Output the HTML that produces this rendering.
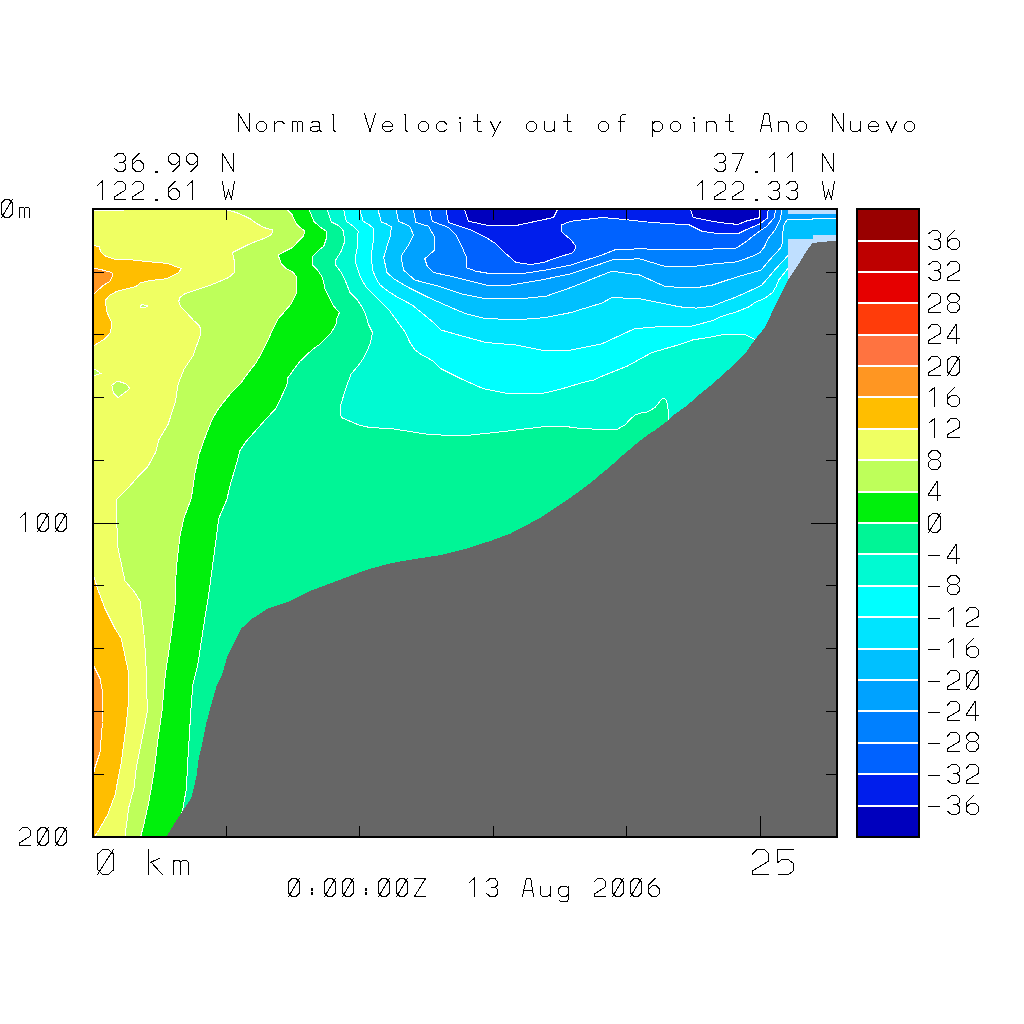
<!DOCTYPE html>
<html><head><meta charset="utf-8"><title>Normal Velocity out of point Ano Nuevo</title>
<style>html,body{margin:0;padding:0;background:#fff;width:1024px;height:1024px;overflow:hidden;font-family:"Liberation Sans",sans-serif}svg{display:block}</style>
</head><body>
<svg width="1024" height="1024" viewBox="0 0 1024 1024">
<defs><clipPath id="pc"><rect x="94" y="210" width="742" height="626"/></clipPath></defs>
<rect width="1024" height="1024" fill="#fff"/>
<g clip-path="url(#pc)" shape-rendering="crispEdges">
<rect x="94" y="210" width="742" height="626" fill="#00f596"/>
<polygon points="309.40,195.00 309.40,210.00 313.75,221.25 320.00,226.90 326.25,231.25 326.25,238.75 323.75,246.25 318.75,250.00 312.50,256.25 312.50,265.00 317.50,270.00 322.50,277.50 325.00,288.75 328.75,296.25 333.75,306.25 339.40,312.50 336.25,320.00 336.25,323.75 331.25,332.50 318.75,345.00 312.50,349.40 300.00,361.25 287.50,378.10 286.90,385.00 280.00,400.00 275.60,408.75 266.25,418.75 256.25,430.00 246.25,441.25 240.00,450.60 236.10,465.00 230.60,483.75 226.70,500.00 218.75,518.50 216.00,540.00 214.00,555.00 211.50,573.75 209.00,592.50 204.60,620.00 201.50,640.00 197.75,665.00 192.75,685.00 190.90,710.00 189.00,741.25 187.50,765.00 186.50,788.00 182.50,811.00 170.00,850.00 60.00,850.00 60.00,195.00" fill="#00f00c" stroke="#fff" stroke-width="1"/>
<polygon points="287.50,195.00 287.50,210.00 291.90,214.40 296.25,223.75 300.00,227.50 304.40,230.60 303.75,235.60 300.00,239.40 292.50,247.50 285.00,251.25 278.10,255.00 281.25,263.75 286.25,268.75 291.90,271.25 296.90,276.90 296.25,293.75 291.25,303.75 283.75,312.50 278.10,318.75 272.50,330.00 267.50,341.25 262.50,351.25 256.25,362.50 247.50,373.75 241.25,382.50 228.75,395.60 217.50,410.00 211.90,420.00 205.00,437.50 198.75,455.00 195.00,473.50 191.25,498.50 183.75,518.50 180.00,536.00 176.25,568.50 175.00,606.00 170.00,643.50 165.25,675.00 162.10,710.00 157.75,741.25 154.00,772.50 149.00,801.25 144.00,823.75 140.90,836.00 140.00,850.00 60.00,850.00 60.00,195.00" fill="#beff5a" stroke="#fff" stroke-width="1"/>
<polygon points="227.50,195.00 227.50,210.00 236.25,212.50 245.00,216.25 251.25,219.40 255.00,222.50 263.75,227.50 272.50,230.00 273.10,231.90 270.00,235.60 265.00,238.10 256.25,241.25 247.50,245.00 232.50,252.50 234.40,261.25 234.40,272.50 228.75,277.50 220.00,281.25 207.50,286.25 196.25,290.00 185.00,293.75 180.00,297.50 178.75,301.25 180.60,306.25 187.50,313.75 193.75,320.60 198.75,325.00 200.60,328.75 200.00,336.25 198.60,340.00 193.10,355.60 183.75,369.70 178.30,383.75 175.20,402.50 168.10,424.40 158.75,440.00 155.60,452.50 147.80,466.60 140.00,474.40 129.00,486.90 116.25,499.75 117.50,546.00 125.00,581.00 133.75,591.00 140.00,601.00 143.75,631.00 145.90,660.00 146.50,692.50 147.75,708.75 145.25,722.50 141.50,741.25 136.50,766.25 134.00,788.00 128.75,807.50 125.00,836.00 124.00,850.00 60.00,850.00 60.00,195.00" fill="#efff62" stroke="#fff" stroke-width="1"/>
<polygon points="111.90,385.30 117.30,381.00 125.90,383.75 129.80,388.40 125.20,392.30 118.10,397.50 113.40,393.10" fill="#beff5a" stroke="#fff" stroke-width="1"/>
<polygon points="94.00,368.90 97.00,370.50 101.00,373.60 96.25,374.70 94.00,376.00 80.00,376.00 80.00,368.90" fill="#beff5a" stroke="#fff" stroke-width="1"/>
<polygon points="140.00,306.00 142.50,304.40 147.50,306.00 145.00,307.50 141.00,307.50" fill="#beff5a" stroke="#fff" stroke-width="1"/>
<polygon points="94.00,245.60 99.40,246.90 100.60,251.90 105.60,256.25 115.00,259.40 132.50,260.00 143.75,261.25 155.00,262.25 167.50,263.50 181.25,268.50 178.75,272.50 166.25,278.75 150.00,280.60 140.00,283.10 136.25,286.25 127.50,288.75 116.90,291.25 110.00,295.00 105.60,300.00 106.25,310.00 108.75,316.25 111.90,322.50 110.60,332.50 105.00,338.75 94.00,345.60 70.00,345.60 70.00,245.60" fill="#ffbe00" stroke="#fff" stroke-width="1"/>
<polygon points="93.75,576.00 97.50,588.50 105.00,608.50 115.00,628.50 121.25,638.50 125.00,656.00 128.75,673.50 128.75,700.00 126.25,725.00 121.25,762.50 115.00,795.00 107.50,815.00 97.50,832.50 95.00,836.00 90.00,850.00 70.00,850.00 70.00,576.00" fill="#ffbe00" stroke="#fff" stroke-width="1"/>
<polygon points="94.00,268.10 102.50,270.00 111.90,272.50 112.50,276.25 110.00,281.25 103.75,285.00 94.00,293.75 70.00,293.75 70.00,268.10" fill="#ff9622" stroke="#fff" stroke-width="1"/>
<polygon points="93.75,666.00 100.00,678.50 102.50,691.00 103.00,705.00 102.50,722.50 100.00,752.50 95.00,767.50 94.00,772.50 70.00,772.50 70.00,666.00" fill="#ff9622" stroke="#fff" stroke-width="1"/>
<polygon points="327.50,195.00 327.50,210.00 331.25,221.90 338.75,225.60 343.75,231.25 344.40,242.50 341.25,251.25 335.60,260.00 335.60,265.00 341.25,272.50 345.00,280.00 350.00,292.50 357.50,300.00 363.75,310.00 367.50,320.00 368.10,323.75 372.50,332.50 370.60,342.50 367.50,350.00 363.10,358.75 358.75,365.00 351.25,373.75 347.50,383.75 343.75,395.00 340.00,407.50 340.00,415.00 342.50,418.10 350.00,421.25 358.75,425.00 366.25,426.90 380.00,428.10 392.50,428.75 400.00,430.00 412.50,431.90 428.00,434.40 441.00,435.00 471.00,435.00 506.00,431.25 541.00,427.00 563.50,426.25 578.10,428.10 593.75,429.10 617.50,429.10 625.00,425.00 629.40,420.00 635.00,415.00 640.00,413.10 647.50,411.90 655.00,407.50 660.00,401.25 663.10,398.10 665.60,399.40 667.50,403.75 668.10,410.00 668.10,420.00 690.00,440.00 900.00,440.00 900.00,195.00" fill="#00fad2" stroke="#fff" stroke-width="1"/>
<polygon points="343.75,195.00 343.75,210.00 346.25,221.25 352.50,225.60 358.10,231.25 357.50,246.25 355.00,260.00 357.50,268.75 360.00,276.25 366.25,287.50 373.75,295.00 382.50,303.75 390.00,311.25 396.25,320.00 405.00,331.90 410.00,342.50 415.00,350.00 420.00,353.75 428.00,358.10 433.50,361.25 441.00,368.75 461.00,378.75 483.50,388.75 508.50,393.75 541.00,393.75 560.00,389.40 572.50,385.60 585.00,381.90 593.75,380.00 602.00,376.25 627.00,366.25 652.00,352.50 680.00,344.40 692.50,340.00 711.25,336.90 721.25,335.00 737.50,334.75 746.25,335.00 755.00,339.40 770.00,350.00 900.00,350.00 900.00,195.00" fill="#00ffff" stroke="#fff" stroke-width="1"/>
<polygon points="360.00,195.00 360.00,210.00 363.10,221.25 368.75,224.40 373.10,228.10 373.10,242.50 371.25,255.00 372.50,270.00 376.25,278.75 380.00,285.00 390.00,292.50 398.00,297.50 412.25,305.00 433.50,322.50 441.00,330.00 458.50,335.00 486.00,342.50 516.00,345.00 541.00,350.00 571.00,350.00 602.00,343.75 634.50,328.75 664.50,326.25 680.00,326.25 691.25,326.25 712.50,320.60 720.00,316.90 736.25,311.90 748.75,306.90 755.00,302.50 765.00,298.10 772.50,292.50 776.25,286.25 778.75,280.00 788.00,268.40 800.00,268.00 900.00,268.00 900.00,195.00" fill="#00e4ff" stroke="#fff" stroke-width="1"/>
<polygon points="378.10,195.00 378.10,210.00 381.25,221.90 386.25,223.75 391.25,226.90 390.60,235.00 386.25,248.75 383.75,257.50 386.90,272.50 393.75,278.75 398.00,281.25 408.50,287.50 428.50,297.50 451.00,307.50 466.00,313.75 486.00,318.75 521.00,319.50 546.00,317.50 571.00,312.50 602.00,303.00 612.00,297.50 639.50,298.75 680.00,306.90 696.25,308.10 712.50,306.25 721.25,302.50 735.00,297.50 747.50,291.90 761.25,285.60 766.25,280.00 775.10,269.50 788.00,255.50 800.00,255.00 900.00,255.00 900.00,195.00" fill="#00c0ff" stroke="#fff" stroke-width="1"/>
<polygon points="396.25,195.00 396.25,210.00 398.50,221.25 409.75,226.25 413.50,235.00 408.50,245.00 401.00,256.25 403.50,270.00 414.75,280.00 438.50,286.25 461.00,293.75 486.00,298.75 521.00,298.75 546.00,296.25 571.00,287.50 602.00,275.00 612.00,271.25 639.50,275.00 664.50,286.25 680.00,287.50 697.50,287.50 712.50,285.00 727.50,280.00 740.70,275.90 761.20,270.00 768.70,260.90 780.50,248.00 782.60,242.60 783.20,226.50 786.90,220.00 788.00,219.50 812.00,219.50 812.00,218.50 850.00,218.50 850.00,195.00" fill="#00a2ff" stroke="#fff" stroke-width="1"/>
<polygon points="413.50,195.00 413.50,210.00 416.00,222.50 428.50,226.25 434.75,237.50 434.75,250.00 424.75,258.75 427.25,266.25 433.50,272.50 451.00,276.25 466.00,280.00 486.00,285.00 511.00,285.00 541.00,280.00 571.00,273.75 602.00,263.50 612.00,260.00 639.50,258.75 664.50,266.25 689.50,267.00 714.50,263.75 730.00,262.50 736.40,261.90 751.50,256.60 760.10,252.30 764.40,246.90 767.60,239.40 775.10,229.70 780.50,219.00 781.60,210.00 781.60,195.00" fill="#0080ff" stroke="#fff" stroke-width="1"/>
<polygon points="429.75,195.00 429.75,210.00 432.25,221.25 448.50,227.50 456.00,235.00 462.25,247.50 466.00,256.25 466.00,267.50 476.00,271.25 491.00,273.75 521.00,273.75 546.00,270.00 571.00,265.00 602.00,255.00 614.50,250.00 639.50,248.75 677.00,250.00 722.00,248.75 730.00,248.50 736.40,248.00 746.10,241.50 760.10,230.80 766.50,226.50 774.00,217.90 775.70,210.00 775.70,195.00" fill="#0062ff" stroke="#fff" stroke-width="1"/>
<polygon points="446.00,195.00 446.00,210.00 448.50,222.50 471.00,230.00 486.00,237.50 496.00,243.75 506.00,253.75 516.00,262.50 531.00,264.50 543.50,262.50 553.50,258.75 573.50,252.50 576.00,246.25 571.00,240.00 561.00,231.25 561.00,225.00 571.00,221.25 602.00,217.50 624.50,219.50 652.00,222.50 689.50,225.00 702.00,231.25 719.50,233.75 730.00,234.00 738.60,233.50 746.10,229.70 760.10,223.80 767.60,217.90 768.10,210.00 768.10,195.00" fill="#001eec" stroke="#fff" stroke-width="1"/>
<polygon points="464.75,195.00 464.75,210.00 468.50,221.25 486.00,225.00 518.50,225.00 553.50,217.50 557.25,210.00 557.25,195.00" fill="#0000be" stroke="#fff" stroke-width="1"/>
<polygon points="690.75,195.00 690.75,210.00 693.25,217.50 712.00,221.25 730.00,223.80 738.60,224.30 746.10,221.10 759.00,217.90 759.50,214.70 759.50,210.00 759.50,195.00" fill="#0000be" stroke="#fff" stroke-width="1"/>
<polygon points="788.00,210.00 836.00,210.00 836.00,213.60 788.00,213.60" fill="#bfdfff"/>
<polygon points="788.00,239.40 813.30,239.40 813.30,235.10 840.00,235.10 840.00,241.00 835.80,241.00 828.80,241.30 820.20,242.10 812.20,243.10 805.20,253.30 796.60,267.30 788.10,280.00" fill="#bfdfff"/>
<polygon points="850.00,241.00 835.80,241.00 828.80,241.30 820.20,242.10 812.20,243.10 805.20,253.30 796.60,267.30 788.10,280.00 780.00,296.25 772.50,311.25 765.00,327.50 755.00,339.40 745.00,353.75 735.00,363.75 722.50,375.00 711.25,385.00 698.75,395.00 688.00,404.75 680.25,410.40 674.00,414.75 667.75,420.70 661.50,425.40 655.25,430.10 649.00,434.10 642.75,438.50 636.50,443.50 630.25,449.10 624.00,454.10 620.00,457.50 611.90,465.00 605.60,470.30 599.40,475.30 593.75,480.30 587.50,485.30 580.60,490.30 573.75,495.30 566.90,500.00 559.40,505.00 553.10,509.40 546.90,513.40 540.60,517.50 534.40,520.60 528.10,524.40 521.90,527.50 515.60,530.90 509.40,534.10 503.10,536.25 500.00,537.50 492.25,540.30 466.00,548.75 441.00,555.00 408.50,560.00 388.50,563.75 366.00,570.00 346.00,577.50 330.00,583.50 310.00,591.00 290.00,601.00 267.50,608.50 252.50,618.50 241.25,628.50 235.00,641.00 227.50,656.00 222.00,675.00 216.50,686.25 211.50,703.75 206.50,722.50 202.75,741.25 198.40,760.00 196.50,776.25 191.50,797.50 182.50,811.25 175.00,822.50 167.50,835.00 162.00,850.00 850.00,850.00" fill="#666666"/>
<line x1="94" y1="210.5" x2="124" y2="210.5" stroke="#fff" stroke-width="1"/>
</g>
<rect x="93" y="209" width="744" height="628" fill="none" stroke="#000" stroke-width="2"/>
<path d="M226.5 210 V220 M226.5 836 V826 M359.5 210 V220 M359.5 836 V826 M493.5 210 V220 M493.5 836 V826 M626.5 210 V220 M626.5 836 V826 M760.5 210 V230 M760.5 836 V816 M94 272.5 H104 M836 272.5 H826 M94 334.5 H104 M836 334.5 H826 M94 397.5 H104 M836 397.5 H826 M94 460.5 H104 M836 460.5 H826 M94 523.5 H119 M836 523.5 H811 M94 585.5 H104 M836 585.5 H826 M94 648.5 H104 M836 648.5 H826 M94 711.5 H104 M836 711.5 H826 M94 774.5 H104 M836 774.5 H826" stroke="#000" stroke-width="1" fill="none" shape-rendering="crispEdges"/>
<rect x="858" y="210.00" width="60" height="31.90" fill="#990000" shape-rendering="crispEdges"/>
<rect x="858" y="241.30" width="60" height="31.90" fill="#be0000" shape-rendering="crispEdges"/>
<rect x="858" y="272.60" width="60" height="31.90" fill="#e60000" shape-rendering="crispEdges"/>
<rect x="858" y="303.90" width="60" height="31.90" fill="#ff3c0a" shape-rendering="crispEdges"/>
<rect x="858" y="335.20" width="60" height="31.90" fill="#ff7340" shape-rendering="crispEdges"/>
<rect x="858" y="366.50" width="60" height="31.90" fill="#ff9622" shape-rendering="crispEdges"/>
<rect x="858" y="397.80" width="60" height="31.90" fill="#ffbe00" shape-rendering="crispEdges"/>
<rect x="858" y="429.10" width="60" height="31.90" fill="#efff62" shape-rendering="crispEdges"/>
<rect x="858" y="460.40" width="60" height="31.90" fill="#beff5a" shape-rendering="crispEdges"/>
<rect x="858" y="491.70" width="60" height="31.90" fill="#00f00c" shape-rendering="crispEdges"/>
<rect x="858" y="523.00" width="60" height="31.90" fill="#00f596" shape-rendering="crispEdges"/>
<rect x="858" y="554.30" width="60" height="31.90" fill="#00fad2" shape-rendering="crispEdges"/>
<rect x="858" y="585.60" width="60" height="31.90" fill="#00ffff" shape-rendering="crispEdges"/>
<rect x="858" y="616.90" width="60" height="31.90" fill="#00e4ff" shape-rendering="crispEdges"/>
<rect x="858" y="648.20" width="60" height="31.90" fill="#00c0ff" shape-rendering="crispEdges"/>
<rect x="858" y="679.50" width="60" height="31.90" fill="#00a2ff" shape-rendering="crispEdges"/>
<rect x="858" y="710.80" width="60" height="31.90" fill="#0080ff" shape-rendering="crispEdges"/>
<rect x="858" y="742.10" width="60" height="31.90" fill="#0062ff" shape-rendering="crispEdges"/>
<rect x="858" y="773.40" width="60" height="31.90" fill="#001eec" shape-rendering="crispEdges"/>
<rect x="858" y="804.70" width="60" height="31.90" fill="#0000be" shape-rendering="crispEdges"/>
<rect x="858" y="240" width="60" height="2" fill="#fff" shape-rendering="crispEdges"/>
<rect x="858" y="271" width="60" height="2" fill="#fff" shape-rendering="crispEdges"/>
<rect x="858" y="302" width="60" height="2" fill="#fff" shape-rendering="crispEdges"/>
<rect x="858" y="334" width="60" height="2" fill="#fff" shape-rendering="crispEdges"/>
<rect x="858" y="365" width="60" height="2" fill="#fff" shape-rendering="crispEdges"/>
<rect x="858" y="396" width="60" height="2" fill="#fff" shape-rendering="crispEdges"/>
<rect x="858" y="428" width="60" height="2" fill="#fff" shape-rendering="crispEdges"/>
<rect x="858" y="459" width="60" height="2" fill="#fff" shape-rendering="crispEdges"/>
<rect x="858" y="491" width="60" height="2" fill="#fff" shape-rendering="crispEdges"/>
<rect x="858" y="522" width="60" height="2" fill="#fff" shape-rendering="crispEdges"/>
<rect x="858" y="553" width="60" height="2" fill="#fff" shape-rendering="crispEdges"/>
<rect x="858" y="585" width="60" height="2" fill="#fff" shape-rendering="crispEdges"/>
<rect x="858" y="616" width="60" height="2" fill="#fff" shape-rendering="crispEdges"/>
<rect x="858" y="648" width="60" height="2" fill="#fff" shape-rendering="crispEdges"/>
<rect x="858" y="679" width="60" height="2" fill="#fff" shape-rendering="crispEdges"/>
<rect x="858" y="710" width="60" height="2" fill="#fff" shape-rendering="crispEdges"/>
<rect x="858" y="742" width="60" height="2" fill="#fff" shape-rendering="crispEdges"/>
<rect x="858" y="773" width="60" height="2" fill="#fff" shape-rendering="crispEdges"/>
<rect x="858" y="805" width="60" height="2" fill="#fff" shape-rendering="crispEdges"/>
<rect x="857" y="209" width="62" height="628" fill="none" stroke="#000" stroke-width="2"/>
<path d="M238.50 131.50 L238.50 113.50 L249.50 131.50 L249.50 113.50 M259.47 121.50 L263.54 121.50 L266.51 124.54 L266.51 128.50 L263.54 131.50 L259.47 131.50 L256.50 128.50 L256.50 124.54 L259.47 121.50 M274.50 121.50 L274.50 131.50 M274.50 124.54 L277.69 121.50 L282.31 121.50 L282.86 122.50 L285.06 123.94 M292.50 121.50 L292.50 131.50 M292.50 122.62 L293.60 121.50 L296.46 121.50 L297.56 122.62 L297.56 131.50 M297.56 122.62 L298.66 121.50 L301.52 121.50 L302.51 122.62 L302.51 131.50 M311.60 122.50 L313.47 121.50 L317.98 121.50 L319.52 122.86 L319.52 130.06 L320.95 131.50 M319.52 125.98 L313.14 126.22 L310.72 127.90 L310.72 130.06 L312.70 131.50 L316.88 131.50 L319.52 129.58 M332.13 113.98 L333.56 114.94 L333.56 130.30 L334.88 131.50 M364.50 113.50 L370.00 131.50 L375.50 113.50 M382.50 126.70 L392.51 126.70 L392.51 124.54 L389.54 121.50 L385.47 121.50 L382.50 124.54 L382.50 128.50 L385.47 131.50 L389.54 131.50 L392.51 129.82 M404.13 113.98 L405.56 114.94 L405.56 130.30 L406.88 131.50 M421.47 121.50 L425.54 121.50 L428.51 124.54 L428.51 128.50 L425.54 131.50 L421.47 131.50 L418.50 128.50 L418.50 124.54 L421.47 121.50 M446.51 124.06 L443.98 121.50 L439.47 121.50 L436.50 124.54 L436.50 128.50 L439.47 131.50 L443.98 131.50 L446.51 129.58 M459.45 122.50 L460.50 122.50 L460.50 131.50 M477.12 114.58 L477.12 130.06 L478.66 131.50 L481.85 131.50 M473.60 121.50 L480.75 121.50 M490.50 121.50 L495.56 131.74 M500.51 121.50 L492.70 136.30 M529.47 121.50 L533.54 121.50 L536.51 124.54 L536.51 128.50 L533.54 131.50 L529.47 131.50 L526.50 128.50 L526.50 124.54 L529.47 121.50 M544.50 121.50 L544.50 129.46 L546.48 131.50 L551.54 131.50 L554.51 129.10 M554.51 121.50 L554.51 131.50 M567.12 114.58 L567.12 130.06 L568.66 131.50 L571.85 131.50 M563.60 121.50 L570.75 121.50 M601.47 121.50 L605.54 121.50 L608.51 124.54 L608.51 128.50 L605.54 131.50 L601.47 131.50 L598.50 128.50 L598.50 124.54 L601.47 121.50 M620.46 131.50 L620.46 116.62 L622.22 114.94 L625.96 114.94 M618.04 121.50 L624.86 121.50 M652.50 121.50 L652.50 136.06 M652.50 124.06 L655.03 121.50 L659.76 121.50 L662.51 124.30 L662.51 128.74 L659.76 131.50 L655.03 131.50 L652.50 128.98 M673.47 121.50 L677.54 121.50 L680.51 124.54 L680.51 128.50 L677.54 131.50 L673.47 131.50 L670.50 128.50 L670.50 124.54 L673.47 121.50 M693.45 122.50 L694.50 122.50 L694.50 131.50 M706.50 121.50 L706.50 131.50 M706.50 123.46 L708.48 121.50 L713.98 121.50 L716.51 124.30 L716.51 131.50 M729.12 114.58 L729.12 130.06 L730.66 131.50 L733.85 131.50 M725.60 121.50 L732.75 121.50 M760.50 131.50 L764.13 114.46 L764.90 113.50 L768.20 113.50 L768.86 114.46 L771.50 131.50 M762.15 125.02 L770.40 125.02 M778.50 121.50 L778.50 131.50 M778.50 123.46 L780.48 121.50 L785.98 121.50 L788.51 124.30 L788.51 131.50 M799.47 121.50 L803.54 121.50 L806.51 124.54 L806.51 128.50 L803.54 131.50 L799.47 131.50 L796.50 128.50 L796.50 124.54 L799.47 121.50 M832.50 131.50 L832.50 113.50 L843.50 131.50 L843.50 113.50 M850.50 121.50 L850.50 129.46 L852.48 131.50 L857.54 131.50 L860.51 129.10 M860.51 121.50 L860.51 131.50 M868.50 126.70 L878.51 126.70 L878.51 124.54 L875.54 121.50 L871.47 121.50 L868.50 124.54 L868.50 128.50 L871.47 131.50 L875.54 131.50 L878.51 129.82 M886.50 121.50 L891.50 131.50 L896.51 121.50 M907.47 121.50 L911.54 121.50 L914.51 124.54 L914.51 128.50 L911.54 131.50 L907.47 131.50 L904.50 128.50 L904.50 124.54 L907.47 121.50" fill="none" stroke="#000" stroke-width="1.00" stroke-linejoin="miter" stroke-linecap="square" shape-rendering="crispEdges"/><g fill="#000" shape-rendering="crispEdges"><rect x="459" y="117" width="2" height="2"/><rect x="693" y="117" width="2" height="2"/></g>
<path d="M114.50 156.62 L118.13 153.62 L122.97 153.62 L125.50 156.38 L125.50 160.22 L122.97 162.02 L119.78 162.02 M122.97 162.02 L125.50 164.18 L125.50 169.22 L122.97 171.50 L118.13 171.50 L114.50 168.38 M139.10 153.50 L132.83 159.74 L132.50 168.26 L136.13 171.50 L140.64 171.50 L143.39 168.62 L143.39 164.06 L140.64 160.94 L136.13 160.94 L132.83 163.94 M172.90 171.50 L179.17 165.26 L179.50 156.74 L175.87 153.50 L171.36 153.50 L168.61 156.38 L168.61 160.94 L171.36 164.06 L175.87 164.06 L179.17 161.06 M190.90 171.50 L197.17 165.26 L197.50 156.74 L193.87 153.50 L189.36 153.50 L186.61 156.38 L186.61 160.94 L189.36 164.06 L193.87 164.06 L197.17 161.06 M222.50 171.50 L222.50 153.50 L233.50 171.50 L233.50 153.50" fill="none" stroke="#000" stroke-width="1.00" stroke-linejoin="miter" stroke-linecap="square" shape-rendering="crispEdges"/><g fill="#000" shape-rendering="crispEdges"><rect x="155" y="171" width="3" height="2"/></g>
<path d="M97.49 185.22 L102.00 181.50 L102.00 199.50 M114.50 184.74 L117.36 181.62 L122.86 181.62 L125.50 184.38 L125.50 189.90 L114.83 196.62 L114.83 199.50 L125.50 199.50 M132.50 184.74 L135.36 181.62 L140.86 181.62 L143.50 184.38 L143.50 189.90 L132.83 196.62 L132.83 199.50 L143.50 199.50 M175.10 181.50 L168.83 187.74 L168.50 196.26 L172.13 199.50 L176.64 199.50 L179.39 196.62 L179.39 192.06 L176.64 188.94 L172.13 188.94 L168.83 191.94 M187.49 185.22 L192.00 181.50 L192.00 199.50 M222.50 181.50 L225.50 199.50 L228.50 190.50 L231.50 199.50 L234.49 181.50" fill="none" stroke="#000" stroke-width="1.00" stroke-linejoin="miter" stroke-linecap="square" shape-rendering="crispEdges"/><g fill="#000" shape-rendering="crispEdges"><rect x="155" y="199" width="3" height="2"/></g>
<path d="M714.50 156.62 L718.13 153.62 L722.97 153.62 L725.50 156.38 L725.50 160.22 L722.97 162.02 L719.78 162.02 M722.97 162.02 L725.50 164.18 L725.50 169.22 L722.97 171.50 L718.13 171.50 L714.50 168.38 M732.50 153.62 L743.17 153.62 L735.80 171.50 M769.49 157.22 L774.00 153.50 L774.00 171.50 M787.49 157.22 L792.00 153.50 L792.00 171.50 M822.50 171.50 L822.50 153.50 L833.50 171.50 L833.50 153.50" fill="none" stroke="#000" stroke-width="1.00" stroke-linejoin="miter" stroke-linecap="square" shape-rendering="crispEdges"/><g fill="#000" shape-rendering="crispEdges"><rect x="755" y="171" width="3" height="2"/></g>
<path d="M697.49 185.22 L702.00 181.50 L702.00 199.50 M714.50 184.74 L717.36 181.62 L722.86 181.62 L725.50 184.38 L725.50 189.90 L714.83 196.62 L714.83 199.50 L725.50 199.50 M732.50 184.74 L735.36 181.62 L740.86 181.62 L743.50 184.38 L743.50 189.90 L732.83 196.62 L732.83 199.50 L743.50 199.50 M768.50 184.62 L772.13 181.62 L776.97 181.62 L779.50 184.38 L779.50 188.22 L776.97 190.02 L773.78 190.02 M776.97 190.02 L779.50 192.18 L779.50 197.22 L776.97 199.50 L772.13 199.50 L768.50 196.38 M786.50 184.62 L790.13 181.62 L794.97 181.62 L797.50 184.38 L797.50 188.22 L794.97 190.02 L791.78 190.02 M794.97 190.02 L797.50 192.18 L797.50 197.22 L794.97 199.50 L790.13 199.50 L786.50 196.38 M822.50 181.50 L825.50 199.50 L828.50 190.50 L831.50 199.50 L834.49 181.50" fill="none" stroke="#000" stroke-width="1.00" stroke-linejoin="miter" stroke-linecap="square" shape-rendering="crispEdges"/><g fill="#000" shape-rendering="crispEdges"><rect x="755" y="199" width="3" height="2"/></g>
<path d="M5.13 199.50 L9.20 199.50 L12.50 202.86 L12.50 214.14 L9.20 217.50 L5.13 217.50 L1.50 214.14 L1.50 202.86 L5.13 199.50 M12.50 199.50 L1.50 217.50 M19.50 207.50 L19.50 217.50 M19.50 208.62 L20.60 207.50 L23.46 207.50 L24.56 208.62 L24.56 217.50 M24.56 208.62 L25.66 207.50 L28.52 207.50 L29.51 208.62 L29.51 217.50" fill="none" stroke="#000" stroke-width="1.00" stroke-linejoin="miter" stroke-linecap="square" shape-rendering="crispEdges"/>
<path d="M20.49 517.22 L25.00 513.50 L25.00 531.50 M41.13 513.50 L45.20 513.50 L48.50 516.86 L48.50 528.14 L45.20 531.50 L41.13 531.50 L37.50 528.14 L37.50 516.86 L41.13 513.50 M48.50 513.50 L37.50 531.50 M59.13 513.50 L63.20 513.50 L66.50 516.86 L66.50 528.14 L63.20 531.50 L59.13 531.50 L55.50 528.14 L55.50 516.86 L59.13 513.50 M66.50 513.50 L55.50 531.50" fill="none" stroke="#000" stroke-width="1.00" stroke-linejoin="miter" stroke-linecap="square" shape-rendering="crispEdges"/>
<path d="M19.50 830.74 L22.36 827.62 L27.86 827.62 L30.50 830.38 L30.50 835.90 L19.83 842.62 L19.83 845.50 L30.50 845.50 M41.13 827.50 L45.20 827.50 L48.50 830.86 L48.50 842.14 L45.20 845.50 L41.13 845.50 L37.50 842.14 L37.50 830.86 L41.13 827.50 M48.50 827.50 L37.50 845.50 M59.13 827.50 L63.20 827.50 L66.50 830.86 L66.50 842.14 L63.20 845.50 L59.13 845.50 L55.50 842.14 L55.50 830.86 L59.13 827.50 M66.50 827.50 L55.50 845.50" fill="none" stroke="#000" stroke-width="1.00" stroke-linejoin="miter" stroke-linecap="square" shape-rendering="crispEdges"/>
<path d="M102.78 849.50 L108.70 849.50 L113.50 854.17 L113.50 869.83 L108.70 874.50 L102.78 874.50 L97.50 869.83 L97.50 854.17 L102.78 849.50 M113.50 849.50 L97.50 874.50 M148.16 849.50 L148.16 874.50 M159.36 858.50 L150.08 862.50 M151.04 862.17 L162.40 874.50 M173.49 860.62 L173.49 874.50 M173.49 862.17 L175.09 860.62 L179.25 860.62 L180.85 862.17 L180.85 874.50 M180.85 862.17 L182.45 860.62 L186.61 860.62 L188.05 862.17 L188.05 874.50" fill="none" stroke="#000" stroke-width="1.00" stroke-linejoin="miter" stroke-linecap="square" shape-rendering="crispEdges"/>
<path d="M752.50 854.00 L756.66 849.67 L764.66 849.67 L768.50 853.50 L768.50 861.17 L752.98 870.50 L752.98 874.50 L768.50 874.50 M793.50 849.67 L777.50 849.67 L777.50 862.83 L782.14 859.33 L788.22 859.33 L793.34 863.50 L793.34 870.83 L788.54 874.50 L778.46 874.50" fill="none" stroke="#000" stroke-width="1.00" stroke-linejoin="miter" stroke-linecap="square" shape-rendering="crispEdges"/>
<path d="M292.13 878.50 L296.20 878.50 L299.50 881.86 L299.50 893.14 L296.20 896.50 L292.13 896.50 L288.50 893.14 L288.50 881.86 L292.13 878.50 M299.50 878.50 L288.50 896.50 M328.13 878.50 L332.20 878.50 L335.50 881.86 L335.50 893.14 L332.20 896.50 L328.13 896.50 L324.50 893.14 L324.50 881.86 L328.13 878.50 M335.50 878.50 L324.50 896.50 M346.13 878.50 L350.20 878.50 L353.50 881.86 L353.50 893.14 L350.20 896.50 L346.13 896.50 L342.50 893.14 L342.50 881.86 L346.13 878.50 M353.50 878.50 L342.50 896.50 M382.13 878.50 L386.20 878.50 L389.50 881.86 L389.50 893.14 L386.20 896.50 L382.13 896.50 L378.50 893.14 L378.50 881.86 L382.13 878.50 M389.50 878.50 L378.50 896.50 M400.13 878.50 L404.20 878.50 L407.50 881.86 L407.50 893.14 L404.20 896.50 L400.13 896.50 L396.50 893.14 L396.50 881.86 L400.13 878.50 M407.50 878.50 L396.50 896.50 M414.50 878.62 L425.50 878.62 L414.50 896.38 L425.50 896.38 M469.49 882.22 L474.00 878.50 L474.00 896.50 M486.50 881.62 L490.13 878.62 L494.97 878.62 L497.50 881.38 L497.50 885.22 L494.97 887.02 L491.78 887.02 M494.97 887.02 L497.50 889.18 L497.50 894.22 L494.97 896.50 L490.13 896.50 L486.50 893.38 M522.50 896.50 L526.13 879.46 L526.90 878.50 L530.20 878.50 L530.86 879.46 L533.50 896.50 M524.15 890.02 L532.40 890.02 M540.50 886.50 L540.50 894.46 L542.48 896.50 L547.54 896.50 L550.51 894.10 M550.51 886.50 L550.51 896.50 M568.51 888.82 L566.64 886.50 L561.14 886.50 L558.50 889.06 L558.50 893.38 L561.14 896.02 L566.64 896.02 L568.51 893.86 M568.51 886.50 L568.51 899.62 L566.64 901.78 L561.14 901.78 L559.16 900.34 M594.50 881.74 L597.36 878.62 L602.86 878.62 L605.50 881.38 L605.50 886.90 L594.83 893.62 L594.83 896.50 L605.50 896.50 M616.13 878.50 L620.20 878.50 L623.50 881.86 L623.50 893.14 L620.20 896.50 L616.13 896.50 L612.50 893.14 L612.50 881.86 L616.13 878.50 M623.50 878.50 L612.50 896.50 M634.13 878.50 L638.20 878.50 L641.50 881.86 L641.50 893.14 L638.20 896.50 L634.13 896.50 L630.50 893.14 L630.50 881.86 L634.13 878.50 M641.50 878.50 L630.50 896.50 M655.10 878.50 L648.83 884.74 L648.50 893.26 L652.13 896.50 L656.64 896.50 L659.39 893.62 L659.39 889.06 L656.64 885.94 L652.13 885.94 L648.83 888.94" fill="none" stroke="#000" stroke-width="1.00" stroke-linejoin="miter" stroke-linecap="square" shape-rendering="crispEdges"/><g fill="#000" shape-rendering="crispEdges"><rect x="311" y="888" width="2" height="3"/><rect x="311" y="892" width="2" height="3"/><rect x="365" y="888" width="2" height="3"/><rect x="365" y="892" width="2" height="3"/></g>
<path d="M928.50 233.79 L932.46 230.63 L937.74 230.63 L940.50 233.54 L940.50 237.59 L937.74 239.49 L934.26 239.49 M937.74 239.49 L940.50 241.77 L940.50 247.09 L937.74 249.50 L932.46 249.50 L928.50 246.21 M954.70 230.50 L947.86 237.09 L947.50 246.08 L951.46 249.50 L956.38 249.50 L959.38 246.46 L959.38 241.65 L956.38 238.35 L951.46 238.35 L947.86 241.52" fill="none" stroke="#000" stroke-width="1.00" stroke-linejoin="miter" stroke-linecap="square" shape-rendering="crispEdges"/>
<path d="M928.50 264.79 L932.46 261.63 L937.74 261.63 L940.50 264.54 L940.50 268.59 L937.74 270.49 L934.26 270.49 M937.74 270.49 L940.50 272.77 L940.50 278.09 L937.74 280.50 L932.46 280.50 L928.50 277.21 M947.50 264.92 L950.62 261.63 L956.62 261.63 L959.50 264.54 L959.50 270.37 L947.86 277.46 L947.86 280.50 L959.50 280.50" fill="none" stroke="#000" stroke-width="1.00" stroke-linejoin="miter" stroke-linecap="square" shape-rendering="crispEdges"/>
<path d="M928.50 296.92 L931.62 293.63 L937.62 293.63 L940.50 296.54 L940.50 302.37 L928.86 309.46 L928.86 312.50 L940.50 312.50 M950.74 293.63 L956.38 293.63 L959.26 296.92 L959.26 299.58 L956.38 302.49 L950.74 302.49 L947.50 299.58 L947.50 296.92 L950.74 293.63 M950.74 302.49 L947.50 305.53 L947.50 309.33 L950.74 312.50 L956.38 312.50 L959.26 309.33 L959.26 305.53 L956.38 302.49" fill="none" stroke="#000" stroke-width="1.00" stroke-linejoin="miter" stroke-linecap="square" shape-rendering="crispEdges"/>
<path d="M928.50 327.92 L931.62 324.63 L937.62 324.63 L940.50 327.54 L940.50 333.37 L928.86 340.46 L928.86 343.50 L940.50 343.50 M956.02 324.50 L947.50 337.42 L947.50 338.94 L959.50 338.94 M956.02 324.50 L956.02 343.50" fill="none" stroke="#000" stroke-width="1.00" stroke-linejoin="miter" stroke-linecap="square" shape-rendering="crispEdges"/>
<path d="M928.50 359.92 L931.62 356.63 L937.62 356.63 L940.50 359.54 L940.50 365.37 L928.86 372.46 L928.86 375.50 L940.50 375.50 M951.46 356.50 L955.90 356.50 L959.50 360.05 L959.50 371.95 L955.90 375.50 L951.46 375.50 L947.50 371.95 L947.50 360.05 L951.46 356.50 M959.50 356.50 L947.50 375.50" fill="none" stroke="#000" stroke-width="1.00" stroke-linejoin="miter" stroke-linecap="square" shape-rendering="crispEdges"/>
<path d="M929.58 391.43 L934.50 387.50 L934.50 406.50 M954.70 387.50 L947.86 394.09 L947.50 403.08 L951.46 406.50 L956.38 406.50 L959.38 403.46 L959.38 398.65 L956.38 395.35 L951.46 395.35 L947.86 398.52" fill="none" stroke="#000" stroke-width="1.00" stroke-linejoin="miter" stroke-linecap="square" shape-rendering="crispEdges"/>
<path d="M929.58 422.43 L934.50 418.50 L934.50 437.50 M947.50 421.92 L950.62 418.63 L956.62 418.63 L959.50 421.54 L959.50 427.37 L947.86 434.46 L947.86 437.50 L959.50 437.50" fill="none" stroke="#000" stroke-width="1.00" stroke-linejoin="miter" stroke-linecap="square" shape-rendering="crispEdges"/>
<path d="M931.74 450.63 L937.38 450.63 L940.26 453.92 L940.26 456.58 L937.38 459.49 L931.74 459.49 L928.50 456.58 L928.50 453.92 L931.74 450.63 M931.74 459.49 L928.50 462.53 L928.50 466.33 L931.74 469.50 L937.38 469.50 L940.26 466.33 L940.26 462.53 L937.38 459.49" fill="none" stroke="#000" stroke-width="1.00" stroke-linejoin="miter" stroke-linecap="square" shape-rendering="crispEdges"/>
<path d="M937.02 481.50 L928.50 494.42 L928.50 495.94 L940.50 495.94 M937.02 481.50 L937.02 500.50" fill="none" stroke="#000" stroke-width="1.00" stroke-linejoin="miter" stroke-linecap="square" shape-rendering="crispEdges"/>
<path d="M932.46 513.50 L936.90 513.50 L940.50 517.05 L940.50 528.95 L936.90 532.50 L932.46 532.50 L928.50 528.95 L928.50 517.05 L932.46 513.50 M940.50 513.50 L928.50 532.50" fill="none" stroke="#000" stroke-width="1.00" stroke-linejoin="miter" stroke-linecap="square" shape-rendering="crispEdges"/>
<path d="M928.50 555.52 L939.54 555.52 M956.02 544.50 L947.50 557.42 L947.50 558.94 L959.50 558.94 M956.02 544.50 L956.02 563.50" fill="none" stroke="#000" stroke-width="1.00" stroke-linejoin="miter" stroke-linecap="square" shape-rendering="crispEdges"/>
<path d="M928.50 586.52 L939.54 586.52 M950.74 575.63 L956.38 575.63 L959.26 578.92 L959.26 581.58 L956.38 584.49 L950.74 584.49 L947.50 581.58 L947.50 578.92 L950.74 575.63 M950.74 584.49 L947.50 587.53 L947.50 591.33 L950.74 594.50 L956.38 594.50 L959.26 591.33 L959.26 587.53 L956.38 584.49" fill="none" stroke="#000" stroke-width="1.00" stroke-linejoin="miter" stroke-linecap="square" shape-rendering="crispEdges"/>
<path d="M928.50 618.52 L939.54 618.52 M948.58 611.43 L953.50 607.50 L953.50 626.50 M966.50 610.92 L969.62 607.63 L975.62 607.63 L978.50 610.54 L978.50 616.37 L966.86 623.46 L966.86 626.50 L978.50 626.50" fill="none" stroke="#000" stroke-width="1.00" stroke-linejoin="miter" stroke-linecap="square" shape-rendering="crispEdges"/>
<path d="M928.50 649.52 L939.54 649.52 M948.58 642.43 L953.50 638.50 L953.50 657.50 M973.70 638.50 L966.86 645.09 L966.50 654.08 L970.46 657.50 L975.38 657.50 L978.38 654.46 L978.38 649.65 L975.38 646.35 L970.46 646.35 L966.86 649.52" fill="none" stroke="#000" stroke-width="1.00" stroke-linejoin="miter" stroke-linecap="square" shape-rendering="crispEdges"/>
<path d="M928.50 681.52 L939.54 681.52 M947.50 673.92 L950.62 670.63 L956.62 670.63 L959.50 673.54 L959.50 679.37 L947.86 686.46 L947.86 689.50 L959.50 689.50 M970.46 670.50 L974.90 670.50 L978.50 674.05 L978.50 685.95 L974.90 689.50 L970.46 689.50 L966.50 685.95 L966.50 674.05 L970.46 670.50 M978.50 670.50 L966.50 689.50" fill="none" stroke="#000" stroke-width="1.00" stroke-linejoin="miter" stroke-linecap="square" shape-rendering="crispEdges"/>
<path d="M928.50 712.52 L939.54 712.52 M947.50 704.92 L950.62 701.63 L956.62 701.63 L959.50 704.54 L959.50 710.37 L947.86 717.46 L947.86 720.50 L959.50 720.50 M975.02 701.50 L966.50 714.42 L966.50 715.94 L978.50 715.94 M975.02 701.50 L975.02 720.50" fill="none" stroke="#000" stroke-width="1.00" stroke-linejoin="miter" stroke-linecap="square" shape-rendering="crispEdges"/>
<path d="M928.50 743.52 L939.54 743.52 M947.50 735.92 L950.62 732.63 L956.62 732.63 L959.50 735.54 L959.50 741.37 L947.86 748.46 L947.86 751.50 L959.50 751.50 M969.74 732.63 L975.38 732.63 L978.26 735.92 L978.26 738.58 L975.38 741.49 L969.74 741.49 L966.50 738.58 L966.50 735.92 L969.74 732.63 M969.74 741.49 L966.50 744.53 L966.50 748.33 L969.74 751.50 L975.38 751.50 L978.26 748.33 L978.26 744.53 L975.38 741.49" fill="none" stroke="#000" stroke-width="1.00" stroke-linejoin="miter" stroke-linecap="square" shape-rendering="crispEdges"/>
<path d="M928.50 775.52 L939.54 775.52 M947.50 767.79 L951.46 764.63 L956.74 764.63 L959.50 767.54 L959.50 771.59 L956.74 773.49 L953.26 773.49 M956.74 773.49 L959.50 775.77 L959.50 781.09 L956.74 783.50 L951.46 783.50 L947.50 780.21 M966.50 767.92 L969.62 764.63 L975.62 764.63 L978.50 767.54 L978.50 773.37 L966.86 780.46 L966.86 783.50 L978.50 783.50" fill="none" stroke="#000" stroke-width="1.00" stroke-linejoin="miter" stroke-linecap="square" shape-rendering="crispEdges"/>
<path d="M928.50 806.52 L939.54 806.52 M947.50 798.79 L951.46 795.63 L956.74 795.63 L959.50 798.54 L959.50 802.59 L956.74 804.49 L953.26 804.49 M956.74 804.49 L959.50 806.77 L959.50 812.09 L956.74 814.50 L951.46 814.50 L947.50 811.21 M973.70 795.50 L966.86 802.09 L966.50 811.08 L970.46 814.50 L975.38 814.50 L978.38 811.46 L978.38 806.65 L975.38 803.35 L970.46 803.35 L966.86 806.52" fill="none" stroke="#000" stroke-width="1.00" stroke-linejoin="miter" stroke-linecap="square" shape-rendering="crispEdges"/>
</svg>
</body></html>
